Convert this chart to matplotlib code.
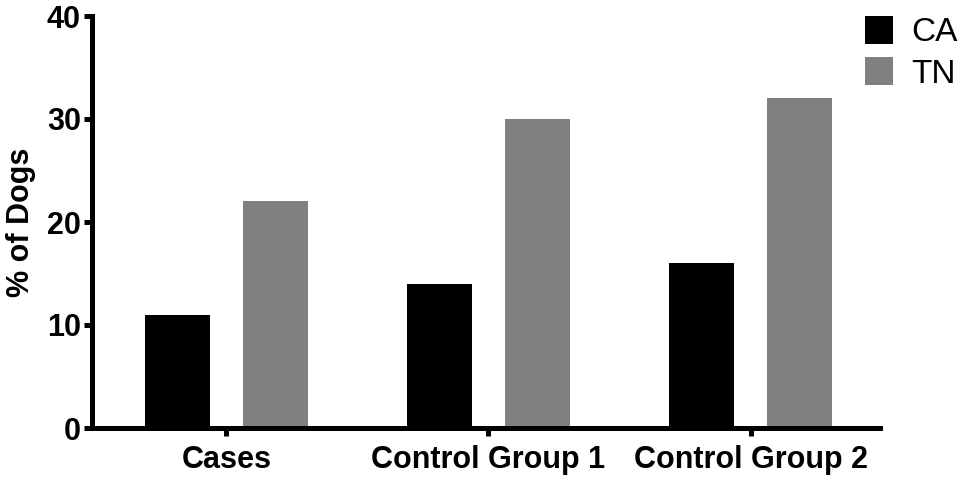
import matplotlib
matplotlib.use("Agg")
import matplotlib.pyplot as plt
import numpy as np

groups = ["Cases", "Control Group 1", "Control Group 2"]
ca = [11, 14, 16]
tn = [22, 30, 32]
series = ["CA", "TN"]

plt.rcParams['font.family'] = ['Liberation Sans', 'DejaVu Sans']

fig = plt.figure(figsize=(9.6, 4.79), dpi=100)
ax = fig.add_axes([92/960, 51/479, 788/960, 412/479])

x = np.arange(len(groups))
w = 0.248
off = 0.187
ax.bar(x - off, ca, w, color="black", label=series[0])
ax.bar(x + off, tn, w, color="#808080", label=series[1])

ax.set_xlim(-0.513, 2.494)
ax.set_ylim(0, 40)
ax.set_yticks([0, 10, 20, 30, 40])
ax.set_xticks(x)
ax.set_xticklabels(groups, fontsize=22, fontweight="bold")
for lab in ax.get_yticklabels():
    lab.set_fontsize(22)
    lab.set_fontweight("bold")
ax.set_ylabel("% of Dogs", fontsize=22, fontweight="bold", labelpad=8)

for s in ["top", "right"]:
    ax.spines[s].set_visible(False)
for s in ["left", "bottom"]:
    ax.spines[s].set_linewidth(3.6)
    ax.spines[s].set_capstyle("projecting")
ax.tick_params(axis="y", length=6, width=3.6, pad=2)
ax.tick_params(axis="x", length=6, width=3.6, pad=6)

ax.legend(loc="upper left", bbox_to_anchor=(865/960, 1 - 16/479),
          bbox_transform=fig.transFigure, frameon=False, fontsize=24,
          handlelength=0.85, handleheight=0.9, handletextpad=0.55,
          labelspacing=0.27, borderpad=0, borderaxespad=0)

fig.savefig("out.png", dpi=100)
